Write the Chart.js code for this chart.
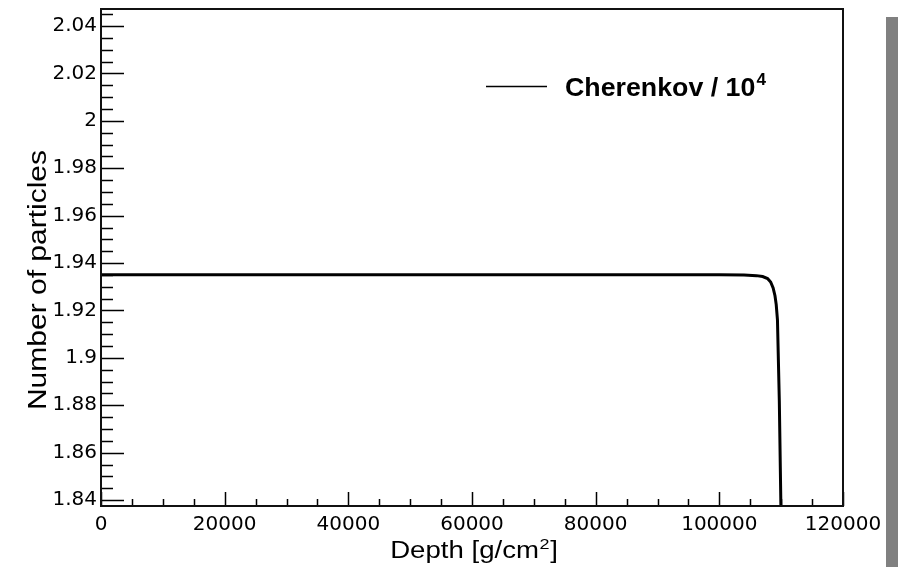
<!DOCTYPE html>
<html>
<head>
<meta charset="utf-8">
<title>Cherenkov photons vs depth</title>
<script src="https://cdn.jsdelivr.net/npm/chart.js@4.4.1/dist/chart.umd.min.js"></script>
<style>
  html, body { margin: 0; padding: 0; background: #fff; }
  #wrap { position: relative; width: 898px; height: 567px; }
  #c { display: block; }
  #edge { position: absolute; left: 886px; top: 17px; width: 12px; height: 550px; background: #808080; }
</style>
</head>
<body>
<div id="wrap">
  <canvas id="c" width="898" height="567"></canvas>
  <div id="edge"></div>
</div>
<script>
// Atmospheric depth [g/cm^2] and Cherenkov photon count (in units of 10^4)
const depth = [0, 20000, 40000, 60000, 80000, 100000, 104000, 106000, 107000, 107800,
               108300, 108700, 109000, 109200, 109400, 109700, 110000];
const cherenkov = [1.9351, 1.9351, 1.9351, 1.9351, 1.9351, 1.9351, 1.9350, 1.9347, 1.9343, 1.9335,
                   1.9320, 1.9295, 1.9262, 1.9225, 1.9160, 1.8820, 1.8300];

// Axis tick labels
const xTickValues = [0, 20000, 40000, 60000, 80000, 100000, 120000];
const xTickLabels = ["0", "20000", "40000", "60000", "80000", "100000", "120000"];
const yTickValues = [1.84, 1.86, 1.88, 1.90, 1.92, 1.94, 1.96, 1.98, 2.00, 2.02, 2.04];
const yTickLabels = ["1.84", "1.86", "1.88", "1.9", "1.92", "1.94", "1.96", "1.98", "2", "2.02", "2.04"];

const seriesName = "Cherenkov / 10";
const seriesExp = "4";
const xTitle = "Depth [g/cm";
const xTitleExp = "2";
const xTitleEnd = "]";
const yTitle = "Number of particles";

const TICK_FONT = "'DejaVu Sans', 'Liberation Sans', sans-serif";
const TEXT_FONT = "'Liberation Sans', Arial, Helvetica, sans-serif";
const WIDE = 1.2; // horizontal widening of title glyphs

function zeroPadding(scale) {
  scale.paddingTop = 0; scale.paddingBottom = 0;
  scale.paddingLeft = 0; scale.paddingRight = 0;
}

// Frame, inward tick marks, axis titles and legend
const framePlugin = {
  id: 'frame',
  afterDraw(chart) {
    const ctx = chart.ctx;
    const a = chart.chartArea;
    const xs = chart.scales.x, ys = chart.scales.y;
    ctx.save();
    ctx.strokeStyle = '#000';
    ctx.lineWidth = 1.5;

    // y ticks every 0.005, major every 0.02
    ctx.beginPath();
    for (let k = 0; k <= 41; k++) {
      const v = 1.84 + k * 0.005;
      const py = Math.round(ys.getPixelForValue(v)) + 0.5;
      if (py < a.top || py > a.bottom) continue;
      const len = (k % 4 === 0) ? 23 : 12;
      ctx.moveTo(a.left, py);
      ctx.lineTo(a.left + len, py);
    }
    // x ticks every 5000, major every 20000
    for (let k = 0; k <= 24; k++) {
      const v = k * 5000;
      const px = Math.round(xs.getPixelForValue(v)) + 0.5;
      const len = (k % 4 === 0) ? 14 : 7;
      ctx.moveTo(px, a.bottom);
      ctx.lineTo(px, a.bottom - len);
    }
    ctx.stroke();

    // frame
    ctx.lineWidth = 2;
    ctx.strokeStyle = '#111';
    ctx.strokeRect(a.left, a.top, a.right - a.left, a.bottom - a.top);

    ctx.fillStyle = '#000';
    ctx.textAlign = 'left';
    ctx.textBaseline = 'alphabetic';

    // x axis title (centred under the frame)
    ctx.save();
    ctx.font = "23px " + TEXT_FONT;
    const w1 = ctx.measureText(xTitle).width;
    const w3 = ctx.measureText(xTitleEnd).width;
    ctx.font = "15px " + TEXT_FONT;
    const w2 = ctx.measureText(xTitleExp).width;
    const total = (w1 + w2 + w3 + 1) * WIDE;
    ctx.translate((a.left + a.right) / 2 - total / 2 + 2, 558);
    ctx.scale(WIDE, 1);
    ctx.font = "23px " + TEXT_FONT;
    ctx.fillText(xTitle, 0, 0);
    ctx.font = "15px " + TEXT_FONT;
    ctx.fillText(xTitleExp, w1 + 0.5, -9);
    ctx.font = "23px " + TEXT_FONT;
    ctx.fillText(xTitleEnd, w1 + w2 + 1, 0);
    ctx.restore();

    // y axis title (rotated)
    ctx.save();
    ctx.translate(46, 280);
    ctx.rotate(-Math.PI / 2);
    ctx.scale(1.2, 1);
    ctx.font = "25px " + TEXT_FONT;
    ctx.textAlign = 'center';
    ctx.fillText(yTitle, 0, 0);
    ctx.restore();

    // legend
    ctx.lineWidth = 1.5;
    ctx.strokeStyle = '#000';
    ctx.beginPath();
    ctx.moveTo(486, 86.5);
    ctx.lineTo(547, 86.5);
    ctx.stroke();
    ctx.save();
    ctx.translate(565, 96);
    ctx.scale(1.07, 1);
    ctx.font = "bold 25px " + TEXT_FONT;
    ctx.fillText(seriesName, 0, 0);
    const w = ctx.measureText(seriesName).width;
    ctx.font = "bold 16px " + TEXT_FONT;
    ctx.fillText(seriesExp, w + 1, -11);
    ctx.restore();

    ctx.restore();
  }
};

new Chart(document.getElementById('c'), {
  type: 'scatter',
  data: {
    datasets: [{
      label: seriesName + seriesExp,
      data: depth.map((d, i) => ({ x: d, y: cherenkov[i] })),
      showLine: true,
      borderColor: '#000',
      borderWidth: 3,
      pointRadius: 0,
      tension: 0
    }]
  },
  options: {
    responsive: false,
    animation: false,
    layout: { padding: { top: 9, right: 55, left: 0, bottom: 0 } },
    plugins: { legend: { display: false }, tooltip: { enabled: false } },
    scales: {
      x: {
        type: 'linear',
        min: 0,
        max: 120000,
        afterBuildTicks(scale) { scale.ticks = xTickValues.map(v => ({ value: v })); },
        afterFit(scale) { scale.height = 61; zeroPadding(scale); },
        ticks: {
          autoSkip: false,
          maxRotation: 0,
          padding: 7,
          color: '#000',
          font: { family: TICK_FONT, size: 20 },
          callback: (v) => xTickLabels[xTickValues.indexOf(v)]
        },
        grid: { display: false, drawTicks: false },
        border: { display: false }
      },
      y: {
        type: 'linear',
        min: 1.8375,
        max: 2.0472,
        afterBuildTicks(scale) { scale.ticks = yTickValues.map(v => ({ value: v })); },
        afterFit(scale) { scale.width = 101; zeroPadding(scale); },
        ticks: {
          autoSkip: false,
          padding: 4,
          color: '#000',
          font: { family: TICK_FONT, size: 20 },
          callback: (v) => {
            const i = yTickValues.findIndex(t => Math.abs(t - v) < 1e-9);
            return i >= 0 ? yTickLabels[i] : '';
          }
        },
        grid: { display: false, drawTicks: false },
        border: { display: false }
      }
    }
  },
  plugins: [framePlugin]
});
</script>
</body>
</html>
